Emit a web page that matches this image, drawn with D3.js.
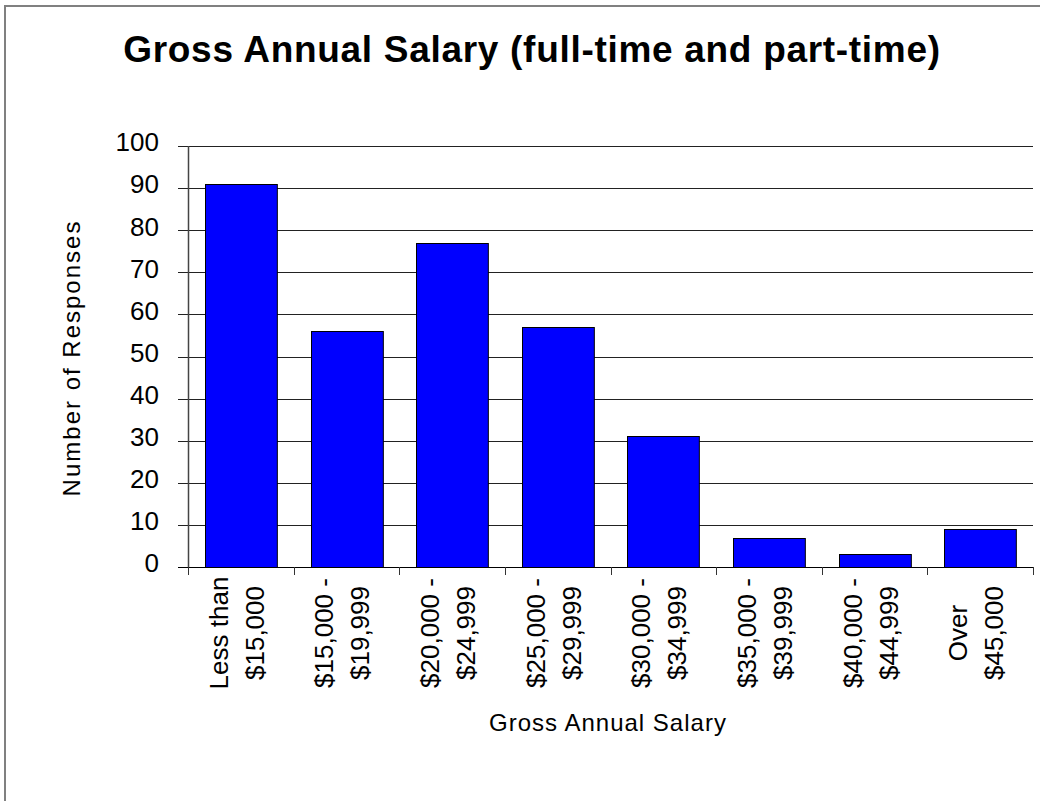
<html>
<head>
<script src="https://d3js.org/d3.v7.min.js"></script>
<style>
  body { margin: 0; background: #fff; }
  text { font-family: "Liberation Sans", Arial, sans-serif; fill: #000; }
</style>
</head>
<body>
<svg width="1040" height="801"></svg>
<script>
// data
var categories = [
  ["Less than", "$15,000"],
  ["$15,000 -", "$19,999"],
  ["$20,000 -", "$24,999"],
  ["$25,000 -", "$29,999"],
  ["$30,000 -", "$34,999"],
  ["$35,000 -", "$39,999"],
  ["$40,000 -", "$44,999"],
  ["Over", "$45,000"]
];
var responses = [91, 56, 77, 57, 31, 7, 3, 9];
var yTicks = [0, 10, 20, 30, 40, 50, 60, 70, 80, 90, 100];

var svg = d3.select("svg");

// outer frame
svg.append("rect")
  .attr("x", 5).attr("y", 6)
  .attr("width", 1040).attr("height", 801)
  .attr("fill", "none").attr("stroke", "#808080").attr("stroke-width", 2);

var pLeft = 188, pRight = 1033, pTop = 146, pBottom = 567;

var x = d3.scaleBand().domain(d3.range(categories.length)).range([pLeft, pRight]).paddingInner(0.32).paddingOuter(0.16);
var xb = d3.scaleBand().domain(d3.range(categories.length)).range([pLeft, pRight]);
var y = d3.scaleLinear().domain([0, 100]).range([pBottom, pTop]);

// gridlines + y ticks
svg.append("g").selectAll("line")
  .data(yTicks.filter(d => d > 0))
  .join("line")
    .attr("x1", pLeft - 10).attr("x2", pRight)
    .attr("y1", d => Math.round(y(d)) + 0.5).attr("y2", d => Math.round(y(d)) + 0.5)
    .attr("stroke", "#222").attr("stroke-width", 1);

svg.append("g").selectAll("text")
  .data(yTicks)
  .join("text")
    .attr("x", 159)
    .attr("y", d => y(d) - 4)
    .attr("dy", "0.36em")
    .attr("text-anchor", "end")
    .attr("font-size", 26)
    .text(d => d);

// bars
svg.append("g").selectAll("rect")
  .data(responses)
  .join("rect")
    .attr("x", (d, i) => Math.round(x(i)) + 0.5)
    .attr("y", d => Math.round(y(d)) + 0.5)
    .attr("width", x.bandwidth())
    .attr("height", d => Math.round(y(0)) - Math.round(y(d)))
    .attr("fill", "#0000ff")
    .attr("stroke", "#000").attr("stroke-width", 1);

// axis lines
svg.append("line")
  .attr("x1", pLeft + 0.5).attr("x2", pLeft + 0.5)
  .attr("y1", pTop).attr("y2", pBottom)
  .attr("stroke", "#444").attr("stroke-width", 1.5);
svg.append("line")
  .attr("x1", pLeft - 10).attr("x2", pRight)
  .attr("y1", pBottom + 0.5).attr("y2", pBottom + 0.5)
  .attr("stroke", "#000").attr("stroke-width", 1);

// x ticks on band edges
svg.append("g").selectAll("line")
  .data(d3.range(categories.length + 1))
  .join("line")
    .attr("x1", i => Math.round(pLeft + i * xb.step()) + 0.5)
    .attr("x2", i => Math.round(pLeft + i * xb.step()) + 0.5)
    .attr("y1", pBottom).attr("y2", pBottom + 8)
    .attr("stroke", "#333").attr("stroke-width", 1);

// x labels: two rotated lines each
var lab = svg.append("g").selectAll("g")
  .data(categories)
  .join("g")
    .attr("transform", (d, i) => "translate(" + (xb(i) + xb.bandwidth() / 2) + ",633) rotate(-90)");
lab.selectAll("text")
  .data(d => d)
  .join("text")
    .attr("x", 0)
    .attr("y", (d, j) => j === 0 ? -13 : 23)
    .attr("text-anchor", "middle")
    .attr("font-size", 26)
    .text(d => d);

// titles
svg.append("text")
  .attr("x", 532).attr("y", 62)
  .attr("text-anchor", "middle")
  .attr("font-size", 37).attr("font-weight", "bold")
  .attr("letter-spacing", 0.7)
  .text("Gross Annual Salary (full-time and part-time)");

svg.append("text")
  .attr("x", 608).attr("y", 731)
  .attr("text-anchor", "middle")
  .attr("font-size", 24).attr("letter-spacing", 1)
  .text("Gross Annual Salary");

svg.append("text")
  .attr("transform", "translate(80,358) rotate(-90)")
  .attr("text-anchor", "middle")
  .attr("font-size", 24).attr("letter-spacing", 2)
  .text("Number of Responses");
</script>
</body>
</html>
